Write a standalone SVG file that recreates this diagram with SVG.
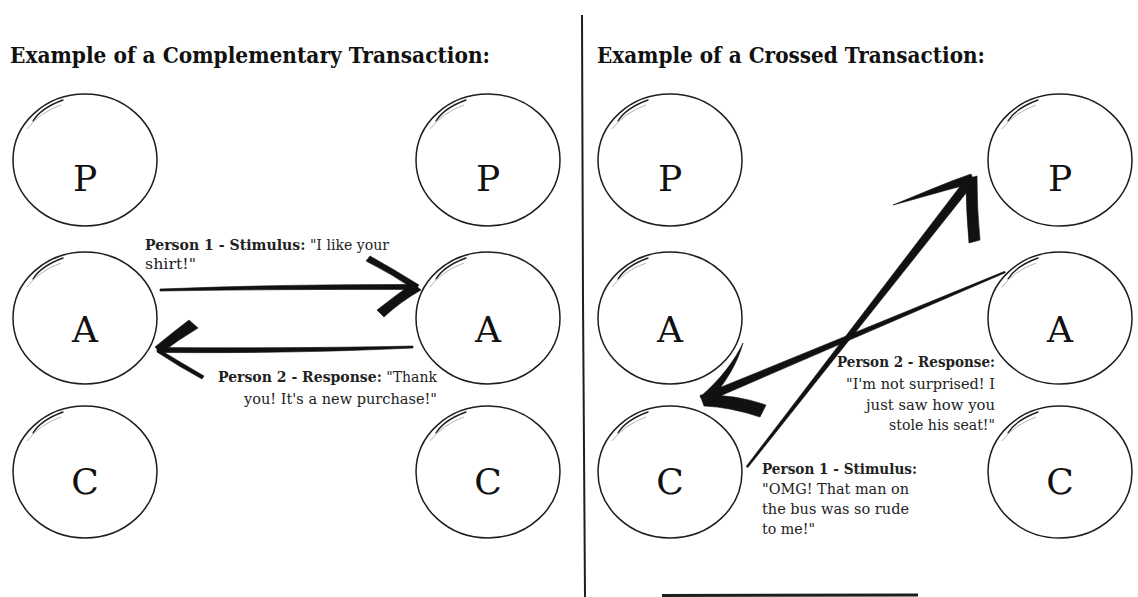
<svg xmlns="http://www.w3.org/2000/svg" width="1138" height="597" viewBox="0 0 1138 597">
<style>
.bg{fill:#ffffff}
.ring{fill:none;stroke:#1e1e1e;stroke-width:1.5}
.tick{fill:none;stroke:#1e1e1e;stroke-width:1.4;stroke-linecap:round}
.tail{fill:none;stroke:#b5b5b5;stroke-width:1}
.letter{font-family:"DejaVu Serif","Liberation Serif",serif;font-size:36px;fill:#111;text-anchor:middle}
.title{font-family:"DejaVu Serif","Liberation Serif",serif;font-size:22px;font-weight:bold;fill:#111}
.lbl{font-family:"DejaVu Serif","Liberation Serif",serif;font-size:14px;fill:#222}
.b{font-weight:bold}
.ink{fill:#111;stroke:#111;stroke-width:0.6;stroke-linejoin:round}
.rule{fill:none;stroke:#1e1e1e;stroke-width:2}
</style>
<defs>
<g id="ringshape">
<ellipse class="ring" cx="0" cy="0" rx="72" ry="66"/>
<path class="tick" d="M-52,-39 Q-44,-52 -22,-60"/>
<path class="tail" d="M-58,-31 Q-46,-47 -24,-55"/>
</g>
</defs>
<rect class="bg" x="0" y="0" width="1138" height="597"/>

<text class="title" x="10" y="63" textLength="480" lengthAdjust="spacingAndGlyphs">Example of a Complementary Transaction:</text>
<text class="title" x="597" y="63" textLength="388" lengthAdjust="spacingAndGlyphs">Example of a Crossed Transaction:</text>

<path class="rule" d="M582,15 L583,300 L585,597"/>
<path d="M662,595.5 L918,595" fill="none" stroke="#1e1e1e" stroke-width="3"/>

<g id="c1-p1-P"><use href="#ringshape" x="85" y="160"/><text class="letter" x="85" y="191">P</text></g>
<g id="c1-p1-A"><use href="#ringshape" x="85" y="318"/><text class="letter" x="85" y="342">A</text></g>
<g id="c1-p1-C"><use href="#ringshape" x="85" y="472"/><text class="letter" x="85" y="494">C</text></g>
<g id="c1-p2-P"><use href="#ringshape" x="488" y="160"/><text class="letter" x="488" y="191">P</text></g>
<g id="c1-p2-A"><use href="#ringshape" x="488" y="318"/><text class="letter" x="488" y="342">A</text></g>
<g id="c1-p2-C"><use href="#ringshape" x="488" y="472"/><text class="letter" x="488" y="494">C</text></g>

<g id="c2-p1-P"><use href="#ringshape" x="670" y="160"/><text class="letter" x="670" y="191">P</text></g>
<g id="c2-p1-A"><use href="#ringshape" x="670" y="318"/><text class="letter" x="670" y="342">A</text></g>
<g id="c2-p1-C"><use href="#ringshape" x="670" y="472"/><text class="letter" x="670" y="494">C</text></g>
<g id="c2-p2-P"><use href="#ringshape" x="1060" y="160"/><text class="letter" x="1060" y="191">P</text></g>
<g id="c2-p2-A"><use href="#ringshape" x="1060" y="318"/><text class="letter" x="1060" y="342">A</text></g>
<g id="c2-p2-C"><use href="#ringshape" x="1060" y="472"/><text class="letter" x="1060" y="494">C</text></g>

<g id="connectors">
<g id="comp-stimulus">
<path class="ink" d="M160,289 Q290,284 414,284.5 L414,289.5 Q290,289 160,291 Z"/>
<path class="ink" d="M366,261 L370,256 Q395,270 419,285 L415,290 Q392,274 366,261 Z"/>
<path class="ink" d="M413,283 L421,290 Q400,302 384,317 L377,310 Q395,296 413,283 Z"/>
</g>
<g id="comp-response">
<path class="ink" d="M413,346 Q300,348.5 158,347.5 L158,352.5 Q300,353.5 413,348 Z"/>
<path class="ink" d="M189,320 L198,328 Q178,340 161,353 L155,347 Q172,333 189,320 Z"/>
<path class="ink" d="M157,348 Q180,362 204,376 L202,379 Q178,366 157,352 Z"/>
</g>
<g id="cross-stimulus">
<polygon class="ink" points="746.2,466.4 747.8,467.6 969.5,188.8 962.5,183.2"/>
<path class="ink" d="M893,205 C920,194 945,183 971,174 L975,183 C948,189 920,198 893,205 Z"/>
<path class="ink" d="M966,179 L977,176 Q977,210 980,240 L969,243 Q966,210 966,179 Z"/>
</g>
<g id="cross-response">
<polygon class="ink" points="1004.7,271.3 1005.3,272.7 711.5,399.7 708.5,392.3"/>
<path class="ink" d="M743,343 C735,360 720,380 700,397 L708,402 C725,385 738,362 743,343 Z"/>
<path class="ink" d="M700,395 Q735,394 766,405 L760,417 Q730,407 704,406 Z"/>
</g>
</g>

<g id="labels">
<text class="lbl" x="145" y="250" textLength="244" lengthAdjust="spacingAndGlyphs"><tspan class="b">Person 1 - Stimulus:</tspan> "I like your</text>
<text class="lbl" x="145" y="269" textLength="51" lengthAdjust="spacingAndGlyphs">shirt!"</text>
<text class="lbl" x="218" y="382" textLength="219" lengthAdjust="spacingAndGlyphs"><tspan class="b">Person 2 - Response:</tspan> "Thank</text>
<text class="lbl" x="244" y="404" textLength="193" lengthAdjust="spacingAndGlyphs">you! It's a new purchase!"</text>

<text class="lbl b" x="837" y="367" textLength="158" lengthAdjust="spacingAndGlyphs">Person 2 - Response:</text>
<text class="lbl" x="846" y="389" textLength="149" lengthAdjust="spacingAndGlyphs">"I'm not surprised! I</text>
<text class="lbl" x="866" y="410" textLength="129" lengthAdjust="spacingAndGlyphs">just saw how you</text>
<text class="lbl" x="889" y="430" textLength="106" lengthAdjust="spacingAndGlyphs">stole his seat!"</text>

<text class="lbl b" x="762" y="474" textLength="155" lengthAdjust="spacingAndGlyphs">Person 1 - Stimulus:</text>
<text class="lbl" x="762" y="494" textLength="147" lengthAdjust="spacingAndGlyphs">"OMG! That man on</text>
<text class="lbl" x="762" y="514" textLength="147" lengthAdjust="spacingAndGlyphs">the bus was so rude</text>
<text class="lbl" x="762" y="534" textLength="53" lengthAdjust="spacingAndGlyphs">to me!"</text>
</g>
</svg>
